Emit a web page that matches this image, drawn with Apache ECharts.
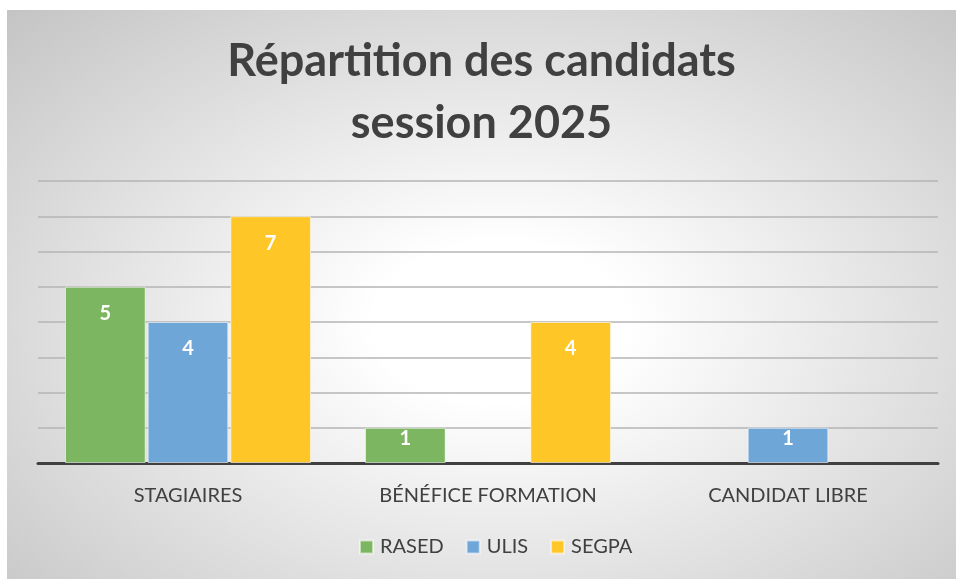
<!DOCTYPE html>
<html>
<head>
<meta charset="utf-8">
<script src="https://cdn.jsdelivr.net/npm/echarts@6/dist/echarts.min.js"></script>
<style>
  html, body { margin: 0; padding: 0; background: #fff; }
  #chart {
    position: absolute; left: 7px; top: 10px; width: 949px; height: 569px;
    background: radial-gradient(farthest-corner at 52% 55%, #ffffff 0%, #ffffff 18%, #c4c4c4 100%);
  }
</style>
</head>
<body>
<div id="chart"></div>
<script>
// categories and series values
var categories = ['STAGIAIRES', 'BÉNÉFICE FORMATION', 'CANDIDAT LIBRE']
var rased = [5, 1, null]
var ulis = [4, null, 1]
var segpa = [7, 4, null]
var seriesNames = ['RASED', 'ULIS', 'SEGPA']
var colors = ['#7db660', '#6fa6d8', '#ffc628']

var FONT = 'Lato, "Liberation Sans", sans-serif'

function makeSeries(name, values, color) {
  return {
    name: name,
    type: 'bar',
    barCategoryGap: '18%',
    barGap: '2.5%',
    itemStyle: { color: color, borderColor: 'rgba(255,255,255,0.55)', borderWidth: 1 },
    label: {
      show: true,
      position: 'insideTop',
      color: '#fff',
      fontFamily: FONT,
      fontWeight: 'bold',
      fontSize: 20
    },
    data: values.map(function (v) {
      return { value: v, label: { distance: v != null && v <= 1 ? 1 : 17 } }
    })
  }
}

var chart = echarts.init(document.getElementById('chart'))
chart.setOption({
  backgroundColor: 'transparent',
  color: colors,
  animation: false,
  title: {
    text: 'Répartition des candidats\nsession 2025',
    left: 'center',
    top: 15,
    textStyle: {
      fontFamily: FONT,
      fontWeight: 'bold',
      fontSize: 45,
      lineHeight: 62,
      color: '#404040'
    }
  },
  legend: {
    bottom: 17,
    left: 347,
    itemWidth: 13,
    itemHeight: 13,
    itemGap: 22,
    icon: 'rect',
    textStyle: { fontFamily: FONT, fontSize: 20, color: '#404040', padding: [0, 0, 0, 2] },
    data: seriesNames
  },
  grid: { left: 31, right: 18, top: 171, bottom: 116 },
  xAxis: {
    type: 'category',
    data: categories,
    axisLine: { lineStyle: { color: '#404040', width: 3 } },
    axisTick: { show: false },
    axisLabel: { fontFamily: FONT, fontSize: 20, color: '#404040', margin: 23 }
  },
  yAxis: {
    type: 'value',
    min: 0,
    max: 8,
    interval: 1,
    axisLabel: { show: false },
    axisLine: { show: false },
    axisTick: { show: false },
    splitLine: { lineStyle: { color: '#b4b4b4', width: 1.5 } }
  },
  series: [
    makeSeries(seriesNames[0], rased, colors[0]),
    makeSeries(seriesNames[1], ulis, colors[1]),
    makeSeries(seriesNames[2], segpa, colors[2])
  ]
})
</script>
</body>
</html>
